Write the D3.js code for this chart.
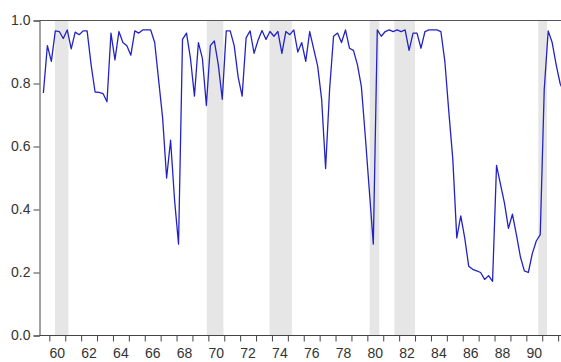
<!DOCTYPE html>
<html>
<head>
<meta charset="utf-8">
<script src="https://cdn.jsdelivr.net/npm/d3@7"></script>
<style>
  body { margin: 0; background: #fff; }
  svg { display: block; }
  text { font-family: Arial, "Liberation Sans", sans-serif; font-size: 14px; fill: #333; }
</style>
</head>
<body>
<div id="chart"></div>
<script>
// quarterly series, first observation 1959Q3
const startYear = 1959;
const startQuarter = 3;
const values = [
  0.77, 0.92, 0.87, 0.967, 0.965, 0.943, 0.970, 0.91, 0.963, 0.955,
  0.967, 0.967, 0.86, 0.773, 0.772, 0.768, 0.742, 0.96, 0.875, 0.965,
  0.93, 0.92, 0.89, 0.967, 0.96, 0.97, 0.97, 0.97, 0.93, 0.81,
  0.69, 0.50, 0.62, 0.43, 0.29, 0.94, 0.96, 0.88, 0.76, 0.93,
  0.88, 0.73, 0.92, 0.935, 0.86, 0.75, 0.967, 0.967, 0.92, 0.82,
  0.76, 0.945, 0.967, 0.896, 0.937, 0.968, 0.94, 0.965, 0.95, 0.965,
  0.896, 0.965, 0.955, 0.97, 0.90, 0.93, 0.87, 0.965, 0.91, 0.855,
  0.75, 0.53, 0.78, 0.95, 0.96, 0.93, 0.97, 0.912, 0.905, 0.86,
  0.79, 0.63, 0.46, 0.29, 0.97, 0.95, 0.965, 0.97, 0.965, 0.97,
  0.965, 0.97, 0.905, 0.96, 0.96, 0.912, 0.965, 0.97, 0.97, 0.97,
  0.965, 0.87, 0.71, 0.56, 0.31, 0.38, 0.31, 0.22, 0.21, 0.205,
  0.20, 0.178, 0.19, 0.172, 0.54, 0.48, 0.42, 0.34, 0.385, 0.32,
  0.25, 0.205, 0.20, 0.26, 0.30, 0.32, 0.78, 0.967, 0.93, 0.86,
  0.80, 0.77
];

// shaded recession periods [start, end] in years
const recessions = [
  [1960.35, 1961.2], [1969.9, 1970.95], [1973.85, 1975.25],
  [1980.15, 1980.75], [1981.7, 1983.0], [1990.75, 1991.3]
];

const yTicks = [0, 0.2, 0.4, 0.6, 0.8, 1.0];
const yearTicks = d3.range(1960, 1993);
const yearLabels = d3.range(1960, 1991, 2);

const width = 561, height = 362;
const plotLeft = 39.5, plotRight = 561, plotTop = 20.5, plotBottom = 335.5;

const svg = d3.select("#chart").append("svg")
    .attr("width", width)
    .attr("height", height);

const x = d3.scaleLinear().domain([1959.38, 1992.18]).range([plotLeft, plotRight]);
const y = d3.scaleLinear().domain([0, 1]).range([plotBottom, plotTop]);

const data = values.map((v, i) => ({
    date: startYear + (startQuarter - 1) / 4 + 0.125 + i * 0.25,
    value: v
}));

svg.append("defs").append("clipPath").attr("id", "plotclip")
  .append("rect")
    .attr("x", plotLeft).attr("y", plotTop - 2)
    .attr("width", plotRight - plotLeft).attr("height", plotBottom - plotTop + 2);

// recession bars
svg.append("g").selectAll("rect")
    .data(recessions)
    .enter().append("rect")
    .attr("x", d => x(d[0]))
    .attr("y", plotTop)
    .attr("width", d => x(d[1]) - x(d[0]))
    .attr("height", plotBottom - plotTop)
    .attr("fill", "#e6e6e6");

// top frame line
svg.append("line")
    .attr("x1", plotLeft).attr("x2", plotRight)
    .attr("y1", plotTop).attr("y2", plotTop)
    .attr("stroke", "#555").attr("stroke-width", 1);

const line = d3.line()
    .x(d => x(d.date))
    .y(d => y(d.value));

svg.append("path")
    .datum(data)
    .attr("clip-path", "url(#plotclip)")
    .attr("fill", "none")
    .attr("stroke", "#2323c4")
    .attr("stroke-width", 1.3)
    .attr("stroke-linejoin", "round")
    .attr("d", line);

// y axis
const yAxis = svg.append("g")
    .attr("transform", `translate(${plotLeft},0)`)
    .call(d3.axisLeft(y).tickValues(yTicks).tickFormat(d3.format(".1f")).tickSize(6).tickPadding(3));

// x axis: ticks on year starts, labels centred on the year
const xAxis = svg.append("g")
    .attr("transform", `translate(0,${plotBottom})`)
    .call(d3.axisBottom(x).tickValues(yearTicks).tickFormat("").tickSize(6));

xAxis.select(".domain").attr("d", `M${plotLeft},0H${plotRight}`);

svg.append("g").selectAll("text")
    .data(yearLabels)
    .enter().append("text")
    .attr("x", d => x(d + 0.5))
    .attr("y", 358)
    .attr("text-anchor", "middle")
    .text(d => String(d).slice(2));

svg.selectAll(".domain, .tick line").attr("stroke", "#444");
yAxis.selectAll("text").style("font-size", "14px").attr("fill", "#333");
</script>
</body>
</html>
